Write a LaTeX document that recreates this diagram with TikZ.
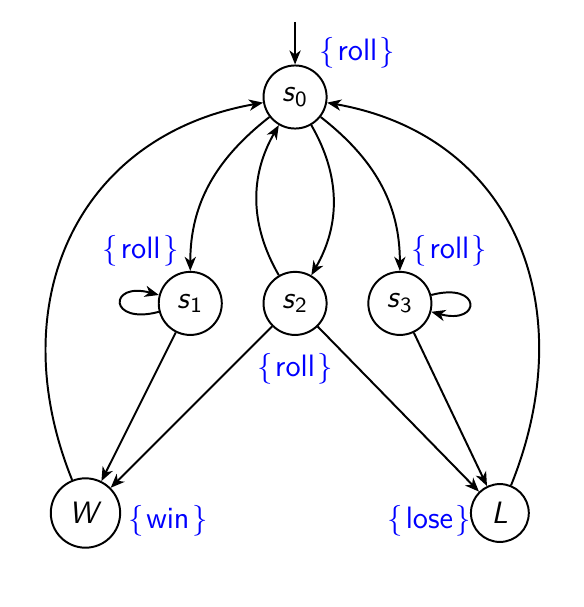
\documentclass[tikz,border=0pt]{standalone}
\usepackage{tikz}
\usetikzlibrary{arrows.meta, positioning}
\usepackage{xcolor}
\definecolor{actionBlue}{RGB}{0, 0, 255}

\begin{document}
\begin{tikzpicture}[
    on grid,
    % State style
    statenode/.style={
        circle,
        draw=black,
        line width=0.7pt,
        inner sep=3.9pt,
        font=\fontsize{11}{13}\selectfont\sffamily
    },
    % Transition style
    trans/.style={
        -{Stealth[length=5pt, width=4pt, inset=1.5pt]},
        line width=0.7pt
    },
    % Action set style
    actset/.style={
        font=\fontsize{11}{13}\selectfont\sffamily,
        text=actionBlue,
        inner sep=1pt
    }
]

% ============================================
% STATES
% ============================================
\node[statenode] (s0) {\textit{s}\textsubscript{0}};
\node[statenode, below=2.58cm of s0] (s2) {\textit{s}\textsubscript{2}};
\node[statenode, left=1.31cm of s2] (s1) {\textit{s}\textsubscript{1}};
\node[statenode, right=1.31cm of s2] (s3) {\textit{s}\textsubscript{3}};
\node[statenode, below left=2.62cm and 2.62cm of s2] (win) {\textit{W}};
\node[statenode, below right=2.62cm and 2.56cm of s2] (lose) {\textit{L}};

% initial marker
\coordinate[above=0.94cm of s0] (init);

% ============================================
% ACTION SETS
% ============================================
\node[actset, above right=0.55cm and 0.78cm of s0] (act0) {$\{\mkern1.5mu$roll$\mkern1.5mu\}$};
\node[actset, above left=0.66cm and 0.62cm of s1] (act1) {$\{\mkern1.5mu$roll$\mkern1.5mu\}$};
\node[actset, below=0.82cm of s2] (act2) {$\{\mkern1.5mu$roll$\mkern1.5mu\}$};
\node[actset, above right=0.66cm and 0.62cm of s3] (act3) {$\{\mkern1.5mu$roll$\mkern1.5mu\}$};
\node[actset, below right=0.1cm and 1.03cm of win] (actw) {$\{\mkern1.5mu$win$\mkern1.5mu\}$};
\node[actset, below left=0.1cm and 0.88cm of lose] (actl) {$\{\mkern1.5mu$lose$\mkern1.5mu\}$};

% ============================================
% TRANSITIONS
% ============================================
\draw[trans] (init) -- (s0);

% from s0 down to the rolls
\draw[trans] (s0) to[out=218, in=90] (s1);
\draw[trans] (s0) to[out=-60, in=60] (s2);
\draw[trans] (s2) to[out=120, in=-120] (s0);
\draw[trans] (s0) to[out=-38, in=90] (s3);

% self loops
\draw[trans] (s1) to[loop left] (s1);
\draw[trans] (s3) to[loop right] (s3);

% into the end states
\draw[trans] (s1) -- (win);
\draw[trans] (s2) -- (win);
\draw[trans] (s2) -- (lose);
\draw[trans] (s3) -- (lose);

% back to s0
\draw[trans] (win) to[out=112, in=190, looseness=1.15] (s0);
\draw[trans] (lose) to[out=68, in=-10, looseness=1.15] (s0);

% margins
\useasboundingbox (-3.6875,1.2125) rectangle (3.4,-6.375);

\end{tikzpicture}
\end{document}
